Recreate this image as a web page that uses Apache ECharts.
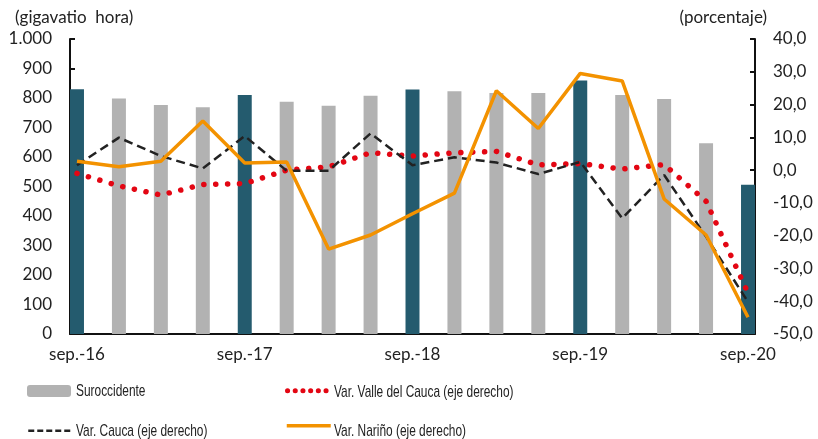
<!DOCTYPE html>
<html>
<head>
<meta charset="utf-8">
<script src="https://cdn.jsdelivr.net/npm/echarts@6/dist/echarts.min.js"></script>
<style>
  html, body { margin: 0; padding: 0; background: #fff; }
  #chart { width: 818px; height: 439px; }
</style>
</head>
<body>
<div id="chart"></div>
<script>
// quarterly observations, sep-16 .. sep-20
var quarters = ['sep.-16', 'dic.-16', 'mar.-17', 'jun.-17', 'sep.-17', 'dic.-17', 'mar.-18', 'jun.-18',
  'sep.-18', 'dic.-18', 'mar.-19', 'jun.-19', 'sep.-19', 'dic.-19', 'mar.-20', 'jun.-20', 'sep.-20'];

// gigavatio hora (left axis)
var suroccidente = [830, 798, 776, 769, 810, 787, 774, 808, 829, 823, 817, 817, 859, 810, 797, 647, 506];

// porcentaje (right axis)
var varValle = [-1.0, -4.8, -7.6, -4.4, -4.1, 0.0, 1.0, 5.3, 4.3, 5.3, 5.7, 1.6, 2.0, 0.3, 1.7, -9.5, -37.5];
var varCauca = [1.5, 9.9, 4.3, 0.5, 10.4, -0.2, -0.2, 11.2, 1.5, 3.9, 2.3, -1.2, 2.5, -14.7, -1.5, -20.3, -40.2];
var varNarino = [2.7, 1.0, 2.7, 15.0, 2.2, 2.5, -24.1, -19.8, -13.3, -7.0, 24.2, 12.7, 29.5, 27.2, -8.8, -19.8, -44.9];

var seriesNames = ['Suroccidente', 'Var. Valle del Cauca (eje derecho)', 'Var. Cauca (eje derecho)', 'Var. Nariño (eje derecho)'];

var monthNames = ['sep.', 'oct.', 'nov.', 'dic.', 'ene.', 'feb.', 'mar.', 'abr.', 'may.', 'jun.', 'jul.', 'ago.'];

// the axis runs month by month; each quarter sits every third month
var months = [];
for (var i = 0; i < (quarters.length - 1) * 3 + 1; i++) {
  var yr = 16 + Math.floor((i + 8) / 12);
  months.push(monthNames[i % 12] + '-' + yr);
}

function spread(arr) {
  var out = months.map(function () { return null; });
  arr.forEach(function (v, k) { out[k * 3] = v; });
  return out;
}

var barData = spread(suroccidente).map(function (v, i) {
  if (v === null) return null;
  if (i % 12 === 0) return { value: v, itemStyle: { color: '#245B6E' } };
  return v;
});

var axisFont = { fontFamily: 'Lato', fontSize: 17, color: '#222' };

// legend icons come from the legend component, the (condensed) labels are drawn beside them
// [left, icon centre y, label centre y]
var legendPos = [[27, 391, 391], [285, 392, 392], [27, 432, 431], [285, 427, 431]];
function legendBox(k, extra) {
  return Object.assign({
    data: [seriesNames[k]], left: legendPos[k][0], top: legendPos[k][1] - 6,
    itemWidth: 44, itemHeight: 12, padding: 0,
    textStyle: { fontSize: 10, lineHeight: 10 },
    formatter: function () { return ''; },
    itemStyle: { opacity: k === 0 ? 1 : 0 }
  }, extra || {});
}
function legendLabel(k) {
  return {
    type: 'text', x: legendPos[k][0] + 49, y: legendPos[k][2], scaleX: 0.7,
    style: {
      text: seriesNames[k], fontSize: 17, fontFamily: 'Liberation Sans', fill: '#222',
      align: 'left', verticalAlign: 'middle'
    }
  };
}

var option = {
  animation: false,
  grid: { left: 70, right: 63, top: 39, bottom: 105, containLabel: false },
  graphic: [
    { type: 'text', left: 15, top: 9, style: { text: '(gigavatio  hora)', fontSize: 17, fontFamily: 'Lato', fill: '#222' } },
    { type: 'text', right: 51, top: 9, style: { text: '(porcentaje)', fontSize: 17, fontFamily: 'Lato', fill: '#222' } },
    legendLabel(0), legendLabel(1), legendLabel(2), legendLabel(3)
  ],
  legend: [
    legendBox(0),
    legendBox(1, { lineStyle: { type: [0.1, 7.6], width: 5, cap: 'round' } }),
    legendBox(2, { lineStyle: { type: [6, 3], width: 2.5 } }),
    legendBox(3, { lineStyle: { width: 3.5 } })
  ],
  xAxis: {
    type: 'category',
    data: months,
    boundaryGap: true,
    axisLine: { lineStyle: { color: '#111', width: 2 } },
    axisTick: { inside: true, length: 5, interval: 11, lineStyle: { color: '#111', width: 2 } },
    axisLabel: Object.assign({ interval: 11, margin: 12 }, axisFont),
    splitLine: { show: false }
  },
  yAxis: [
    {
      type: 'value', min: 0, max: 1000, interval: 100,
      axisLine: { show: true, lineStyle: { color: '#111', width: 2 } },
      axisTick: { show: true, inside: true, length: 5, lineStyle: { color: '#111', width: 2 } },
      axisLabel: Object.assign({
        margin: 18,
        formatter: function (v) { return v >= 1000 ? '1.000' : String(v); }
      }, axisFont),
      splitLine: { show: false }
    },
    {
      type: 'value', min: -50, max: 40, interval: 10, position: 'right',
      axisLine: { show: true, lineStyle: { color: '#111', width: 2 } },
      axisTick: { show: true, inside: true, length: 5, lineStyle: { color: '#111', width: 2 } },
      axisLabel: Object.assign({
        margin: 18,
        formatter: function (v) { return v.toFixed(1).replace('.', ','); }
      }, axisFont),
      splitLine: { show: false }
    }
  ],
  series: [
    {
      name: seriesNames[0], type: 'bar', data: barData, yAxisIndex: 0,
      barCategoryGap: '0%', itemStyle: { color: '#B2B2B2' }
    },
    {
      name: seriesNames[1], type: 'line', yAxisIndex: 1,
      data: spread(varValle), connectNulls: true, symbol: 'none',
      lineStyle: { color: '#E30613', width: 5.5, type: [0.1, 11.8], cap: 'round' },
      itemStyle: { color: '#E30613' }
    },
    {
      name: seriesNames[2], type: 'line', yAxisIndex: 1,
      data: spread(varCauca), connectNulls: true, symbol: 'none',
      lineStyle: { color: '#222', width: 2.5, type: [9, 5] },
      itemStyle: { color: '#222' }
    },
    {
      name: seriesNames[3], type: 'line', yAxisIndex: 1,
      data: spread(varNarino), connectNulls: true, symbol: 'none',
      lineStyle: { color: '#F39200', width: 3.5 },
      itemStyle: { color: '#F39200' }
    }
  ]
};

var chart = echarts.init(document.getElementById('chart'));
chart.setOption(option);
</script>
</body>
</html>
